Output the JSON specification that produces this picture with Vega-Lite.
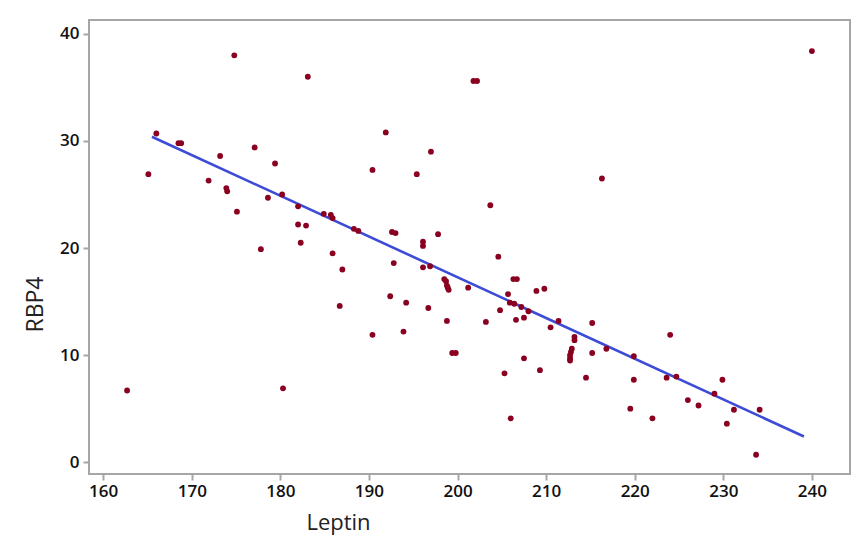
{
  "$schema": "https://vega.github.io/schema/vega-lite/v6.json",
  "width": 761,
  "height": 454,
  "autosize": {"type": "none"},
  "padding": {"left": 89, "top": 20, "right": 3, "bottom": 63},
  "background": "white",
  "config": {
    "view": {"stroke": "#a6a6a6", "strokeWidth": 2},
    "font": "Open Sans"
  },
  "datasets": {
    "points": [
      {"Leptin": 162.7, "RBP4": 6.7}, {"Leptin": 165.1, "RBP4": 26.9}, {"Leptin": 166.0, "RBP4": 30.7},
      {"Leptin": 168.5, "RBP4": 29.8}, {"Leptin": 168.8, "RBP4": 29.8}, {"Leptin": 171.9, "RBP4": 26.3},
      {"Leptin": 173.2, "RBP4": 28.6}, {"Leptin": 173.9, "RBP4": 25.6}, {"Leptin": 174.0, "RBP4": 25.3},
      {"Leptin": 174.8, "RBP4": 38.0}, {"Leptin": 175.1, "RBP4": 23.4}, {"Leptin": 177.1, "RBP4": 29.4},
      {"Leptin": 177.8, "RBP4": 19.9}, {"Leptin": 178.6, "RBP4": 24.7}, {"Leptin": 179.4, "RBP4": 27.9},
      {"Leptin": 180.2, "RBP4": 25.0}, {"Leptin": 180.3, "RBP4": 6.9}, {"Leptin": 182.0, "RBP4": 23.9},
      {"Leptin": 182.0, "RBP4": 22.2}, {"Leptin": 182.3, "RBP4": 20.5}, {"Leptin": 182.9, "RBP4": 22.1},
      {"Leptin": 183.1, "RBP4": 36.0}, {"Leptin": 184.9, "RBP4": 23.2}, {"Leptin": 185.7, "RBP4": 23.1},
      {"Leptin": 185.9, "RBP4": 22.8}, {"Leptin": 185.9, "RBP4": 19.5}, {"Leptin": 186.7, "RBP4": 14.6},
      {"Leptin": 187.0, "RBP4": 18.0}, {"Leptin": 188.3, "RBP4": 21.8}, {"Leptin": 188.8, "RBP4": 21.6},
      {"Leptin": 190.4, "RBP4": 27.3}, {"Leptin": 190.4, "RBP4": 11.9}, {"Leptin": 191.9, "RBP4": 30.8},
      {"Leptin": 192.4, "RBP4": 15.5}, {"Leptin": 192.6, "RBP4": 21.5}, {"Leptin": 193.0, "RBP4": 21.4},
      {"Leptin": 192.8, "RBP4": 18.6}, {"Leptin": 193.9, "RBP4": 12.2}, {"Leptin": 194.2, "RBP4": 14.9},
      {"Leptin": 195.4, "RBP4": 26.9}, {"Leptin": 196.1, "RBP4": 20.6}, {"Leptin": 196.1, "RBP4": 20.2},
      {"Leptin": 196.1, "RBP4": 18.2}, {"Leptin": 196.7, "RBP4": 14.4}, {"Leptin": 196.9, "RBP4": 18.3},
      {"Leptin": 197.0, "RBP4": 29.0}, {"Leptin": 197.8, "RBP4": 21.3}, {"Leptin": 198.5, "RBP4": 17.1},
      {"Leptin": 198.7, "RBP4": 16.9}, {"Leptin": 198.8, "RBP4": 16.5}, {"Leptin": 198.9, "RBP4": 16.3},
      {"Leptin": 199.0, "RBP4": 16.1}, {"Leptin": 198.8, "RBP4": 13.2}, {"Leptin": 199.4, "RBP4": 10.2},
      {"Leptin": 199.8, "RBP4": 10.2}, {"Leptin": 201.2, "RBP4": 16.3}, {"Leptin": 201.8, "RBP4": 35.6},
      {"Leptin": 202.2, "RBP4": 35.6}, {"Leptin": 203.2, "RBP4": 13.1}, {"Leptin": 203.7, "RBP4": 24.0},
      {"Leptin": 204.6, "RBP4": 19.2}, {"Leptin": 204.8, "RBP4": 14.2}, {"Leptin": 205.3, "RBP4": 8.3},
      {"Leptin": 205.7, "RBP4": 15.7}, {"Leptin": 205.9, "RBP4": 14.9}, {"Leptin": 206.4, "RBP4": 14.8},
      {"Leptin": 206.0, "RBP4": 4.1}, {"Leptin": 206.3, "RBP4": 17.1}, {"Leptin": 206.7, "RBP4": 17.1},
      {"Leptin": 206.6, "RBP4": 13.3}, {"Leptin": 207.2, "RBP4": 14.5}, {"Leptin": 207.5, "RBP4": 13.5},
      {"Leptin": 207.5, "RBP4": 9.7}, {"Leptin": 208.0, "RBP4": 14.1}, {"Leptin": 208.9, "RBP4": 16.0},
      {"Leptin": 209.3, "RBP4": 8.6}, {"Leptin": 209.8, "RBP4": 16.2}, {"Leptin": 210.5, "RBP4": 12.6},
      {"Leptin": 211.4, "RBP4": 13.2}, {"Leptin": 213.2, "RBP4": 11.7}, {"Leptin": 213.2, "RBP4": 11.4},
      {"Leptin": 212.9, "RBP4": 10.6}, {"Leptin": 212.8, "RBP4": 10.3}, {"Leptin": 212.7, "RBP4": 10.0},
      {"Leptin": 212.7, "RBP4": 9.7}, {"Leptin": 212.7, "RBP4": 9.5}, {"Leptin": 214.5, "RBP4": 7.9},
      {"Leptin": 215.2, "RBP4": 13.0}, {"Leptin": 215.2, "RBP4": 10.2}, {"Leptin": 216.3, "RBP4": 26.5},
      {"Leptin": 216.8, "RBP4": 10.6}, {"Leptin": 219.5, "RBP4": 5.0}, {"Leptin": 219.9, "RBP4": 9.9},
      {"Leptin": 219.9, "RBP4": 7.7}, {"Leptin": 222.0, "RBP4": 4.1}, {"Leptin": 223.6, "RBP4": 7.9},
      {"Leptin": 224.0, "RBP4": 11.9}, {"Leptin": 224.7, "RBP4": 8.0}, {"Leptin": 226.0, "RBP4": 5.8},
      {"Leptin": 227.2, "RBP4": 5.3}, {"Leptin": 229.0, "RBP4": 6.4}, {"Leptin": 229.9, "RBP4": 7.7},
      {"Leptin": 230.4, "RBP4": 3.6}, {"Leptin": 231.2, "RBP4": 4.9}, {"Leptin": 233.7, "RBP4": 0.7},
      {"Leptin": 234.1, "RBP4": 4.9}, {"Leptin": 240.0, "RBP4": 38.4}
    ],
    "fit": [
      {"Leptin": 165.5, "RBP4": 30.4},
      {"Leptin": 239.1, "RBP4": 2.4}
    ]
  },
  "layer": [
    {
      "data": {"name": "fit"},
      "mark": {"type": "line", "color": "#3d4bd6", "strokeWidth": 2.6},
      "encoding": {
        "x": {"field": "Leptin", "type": "quantitative"},
        "y": {"field": "RBP4", "type": "quantitative"}
      }
    },
    {
      "data": {"name": "points"},
      "mark": {"type": "point", "shape": "circle", "filled": true, "color": "#8a0020", "opacity": 1, "size": 34},
      "encoding": {
        "x": {
          "field": "Leptin", "type": "quantitative",
          "scale": {"domain": [158.4, 244.3], "nice": false, "zero": false},
          "axis": {
            "title": "Leptin", "values": [160, 170, 180, 190, 200, 210, 220, 230, 240],
            "domain": false, "grid": false, "tickColor": "#a6a6a6", "tickWidth": 2, "tickSize": 6,
            "labelFont": "Open Sans", "labelFontSize": 17, "labelFontWeight": 600, "labelColor": "#111111", "labelPadding": 3,
            "titleFont": "Open Sans", "titleFontSize": 22, "titleFontWeight": "normal", "titleColor": "#222222",
            "titleX": 249, "titleY": 55, "titleAlign": "center", "titleBaseline": "alphabetic"
          }
        },
        "y": {
          "field": "RBP4", "type": "quantitative",
          "scale": {"domain": [-1.1, 41.3], "nice": false, "zero": false},
          "axis": {
            "title": "RBP4", "values": [0, 10, 20, 30, 40],
            "domain": false, "grid": false, "tickColor": "#a6a6a6", "tickWidth": 2, "tickSize": 6,
            "labelFont": "Open Sans", "labelFontSize": 17, "labelFontWeight": 600, "labelColor": "#111111", "labelPadding": 4,
            "titleFont": "Open Sans", "titleFontSize": 23, "titleFontWeight": "normal", "titleColor": "#222222",
            "titleX": -54, "titleY": 284, "titleAngle": -90, "titleAlign": "center", "titleBaseline": "middle"
          }
        }
      }
    }
  ]
}
